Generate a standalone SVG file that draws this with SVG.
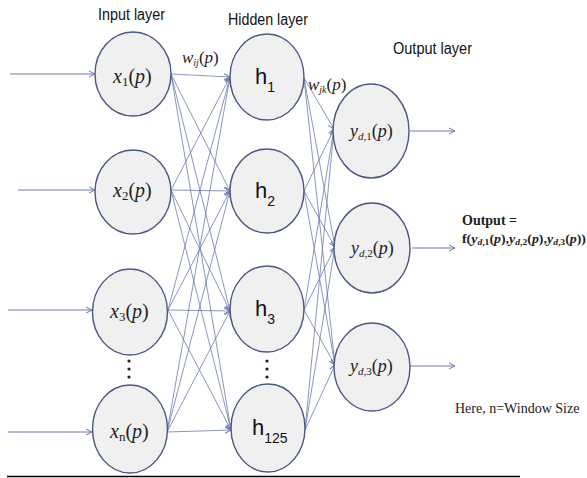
<svg xmlns="http://www.w3.org/2000/svg" width="587" height="478" viewBox="0 0 587 478">
<style>
.node{fill:#f0f0f0;stroke:#4b5783;stroke-width:1.4}
.c{stroke:#6e7aab;stroke-width:0.8;fill:none;marker-end:url(#ah)}
.io{stroke:#6e7aab;stroke-width:1;fill:none;marker-end:url(#ah)}
.title{font-family:"Liberation Sans",Arial,sans-serif;font-size:16px;fill:#111}
.ser{font-family:"Liberation Serif","Times New Roman",serif;fill:#222}
.hl{font-family:"Liberation Sans",Arial,sans-serif;fill:#111}
.dot{fill:#222}
</style>
<defs>
<marker id="ah" viewBox="0 0 8 8" refX="7" refY="4" markerWidth="8" markerHeight="8" markerUnits="userSpaceOnUse" orient="auto">
<path d="M1,1 L7,4 L1,7" fill="none" stroke="#6e7aab" stroke-width="1"/>
</marker>
</defs>
<rect width="587" height="478" fill="#ffffff"/>

<text class="title" x="98" y="20" textLength="67" lengthAdjust="spacingAndGlyphs">Input layer</text>
<text class="title" x="228" y="25" font-size="15" textLength="80" lengthAdjust="spacingAndGlyphs">Hidden layer</text>
<text class="title" x="393" y="54" textLength="79" lengthAdjust="spacingAndGlyphs">Output layer</text>

<g id="connectors">
<line class="io" x1="10" y1="74" x2="95" y2="74"/>
<line class="io" x1="18" y1="190" x2="95" y2="190"/>
<line class="io" x1="8" y1="310" x2="92" y2="310"/>
<line class="io" x1="8" y1="432" x2="92" y2="432"/>
<line class="c" x1="171" y1="74" x2="230" y2="77"/>
<line class="c" x1="171" y1="74" x2="230" y2="191"/>
<line class="c" x1="171" y1="74" x2="230" y2="311"/>
<line class="c" x1="171" y1="74" x2="231" y2="430"/>
<line class="c" x1="171" y1="190" x2="230" y2="77"/>
<line class="c" x1="171" y1="190" x2="230" y2="191"/>
<line class="c" x1="171" y1="190" x2="230" y2="311"/>
<line class="c" x1="171" y1="190" x2="231" y2="430"/>
<line class="c" x1="168" y1="310" x2="230" y2="77"/>
<line class="c" x1="168" y1="310" x2="230" y2="191"/>
<line class="c" x1="168" y1="310" x2="230" y2="311"/>
<line class="c" x1="168" y1="310" x2="231" y2="430"/>
<line class="c" x1="167" y1="432" x2="230" y2="77"/>
<line class="c" x1="167" y1="432" x2="230" y2="191"/>
<line class="c" x1="167" y1="432" x2="230" y2="311"/>
<line class="c" x1="167" y1="432" x2="231" y2="430"/>
<line class="c" x1="304" y1="78" x2="334" y2="129"/>
<line class="c" x1="304" y1="78" x2="335" y2="247"/>
<line class="c" x1="304" y1="78" x2="335" y2="365"/>
<line class="c" x1="304" y1="191" x2="334" y2="129"/>
<line class="c" x1="304" y1="191" x2="335" y2="247"/>
<line class="c" x1="304" y1="191" x2="335" y2="365"/>
<line class="c" x1="304" y1="310" x2="334" y2="129"/>
<line class="c" x1="304" y1="310" x2="335" y2="247"/>
<line class="c" x1="304" y1="310" x2="335" y2="365"/>
<line class="c" x1="305" y1="430" x2="334" y2="129"/>
<line class="c" x1="305" y1="430" x2="335" y2="247"/>
<line class="c" x1="305" y1="430" x2="335" y2="365"/>
<line class="io" x1="410" y1="131" x2="455" y2="131"/>
<line class="io" x1="412" y1="248" x2="455" y2="248"/>
<line class="io" x1="410" y1="366" x2="455" y2="366"/>
</g>

<g id="x1"><ellipse class="node" cx="133" cy="74" rx="38" ry="42"/>
<text class="ser" x="113" y="83" font-size="20"><tspan font-style="italic">x</tspan><tspan font-size="13" dy="3">1</tspan><tspan dy="-3">(</tspan><tspan font-style="italic">p</tspan>)</text></g>
<g id="x2"><ellipse class="node" cx="133" cy="192" rx="38" ry="42"/>
<text class="ser" x="113" y="197" font-size="20"><tspan font-style="italic">x</tspan><tspan font-size="13" dy="3">2</tspan><tspan dy="-3">(</tspan><tspan font-style="italic">p</tspan>)</text></g>
<g id="x3"><ellipse class="node" cx="130" cy="312" rx="37.5" ry="43"/>
<text class="ser" x="110" y="318" font-size="20"><tspan font-style="italic">x</tspan><tspan font-size="13" dy="3">3</tspan><tspan dy="-3">(</tspan><tspan font-style="italic">p</tspan>)</text></g>
<g id="dots-in"><circle class="dot" cx="129" cy="361" r="1.6"/><circle class="dot" cx="129" cy="369" r="1.6"/><circle class="dot" cx="129" cy="377" r="1.6"/></g>
<g id="xn"><ellipse class="node" cx="130" cy="429" rx="37.5" ry="44"/>
<text class="ser" x="110" y="438" font-size="20"><tspan font-style="italic">x</tspan><tspan font-size="13" dy="3">n</tspan><tspan dy="-3">(</tspan><tspan font-style="italic">p</tspan>)</text></g>

<g id="h1"><ellipse class="node" cx="267" cy="77" rx="37" ry="43"/>
<text class="hl" x="255" y="84" font-size="22">h<tspan font-size="14" dy="8">1</tspan></text></g>
<g id="h2"><ellipse class="node" cx="267" cy="191" rx="37" ry="42"/>
<text class="hl" x="255" y="198" font-size="22">h<tspan font-size="14" dy="8">2</tspan></text></g>
<g id="h3"><ellipse class="node" cx="267" cy="309" rx="37" ry="43"/>
<text class="hl" x="255" y="316" font-size="22">h<tspan font-size="14" dy="8">3</tspan></text></g>
<g id="dots-hid"><circle class="dot" cx="267" cy="361" r="1.6"/><circle class="dot" cx="267" cy="369" r="1.6"/><circle class="dot" cx="267" cy="377" r="1.6"/></g>
<g id="h125"><ellipse class="node" cx="268" cy="428" rx="37" ry="44"/>
<text class="hl" x="252" y="435" font-size="22">h<tspan font-size="14" dy="8">125</tspan></text></g>

<g id="y1"><ellipse class="node" cx="371" cy="131" rx="38" ry="47"/>
<text class="ser" x="350" y="137" font-size="18"><tspan font-style="italic">y</tspan><tspan font-size="11" dy="3" font-style="italic">d</tspan><tspan font-size="11">,1</tspan><tspan dy="-3">(</tspan><tspan font-style="italic">p</tspan>)</text></g>
<g id="y2"><ellipse class="node" cx="372" cy="248" rx="38" ry="45"/>
<text class="ser" x="351" y="254" font-size="18"><tspan font-style="italic">y</tspan><tspan font-size="11" dy="3" font-style="italic">d</tspan><tspan font-size="11">,2</tspan><tspan dy="-3">(</tspan><tspan font-style="italic">p</tspan>)</text></g>
<g id="y3"><ellipse class="node" cx="372" cy="367" rx="38" ry="44"/>
<text class="ser" x="350" y="372" font-size="18"><tspan font-style="italic">y</tspan><tspan font-size="11" dy="3" font-style="italic">d</tspan><tspan font-size="11">,3</tspan><tspan dy="-3">(</tspan><tspan font-style="italic">p</tspan>)</text></g>

<text class="ser" x="182" y="63" font-size="17"><tspan font-style="italic">w</tspan><tspan font-size="10" dy="3" font-style="italic">ij</tspan><tspan dy="-3">(</tspan><tspan font-style="italic">p</tspan>)</text>
<text class="ser" x="308" y="90" font-size="17"><tspan font-style="italic">w</tspan><tspan font-size="10" dy="3" font-style="italic">jk</tspan><tspan dy="-3">(</tspan><tspan font-style="italic">p</tspan>)</text>

<text class="ser" x="462" y="225" font-size="14" font-weight="bold" fill="#111">Output  =</text>
<text class="ser" x="462" y="243" font-size="13" font-weight="bold" fill="#111" textLength="124" lengthAdjust="spacingAndGlyphs">f(<tspan font-style="italic">y</tspan><tspan font-size="9" dy="2" font-style="italic">d</tspan><tspan font-size="9">,1</tspan><tspan dy="-2">(</tspan><tspan font-style="italic">p</tspan>),<tspan font-style="italic">y</tspan><tspan font-size="9" dy="2" font-style="italic">d</tspan><tspan font-size="9">,2</tspan><tspan dy="-2">(</tspan><tspan font-style="italic">p</tspan>),<tspan font-style="italic">y</tspan><tspan font-size="9" dy="2" font-style="italic">d</tspan><tspan font-size="9">,3</tspan><tspan dy="-2">(</tspan><tspan font-style="italic">p</tspan>))</text>
<text class="ser" x="455" y="413" font-size="14" fill="#111">Here, n=Window Size</text>

<line x1="7" y1="476.5" x2="520" y2="476.5" stroke="#000" stroke-width="1.6"/>
</svg>
